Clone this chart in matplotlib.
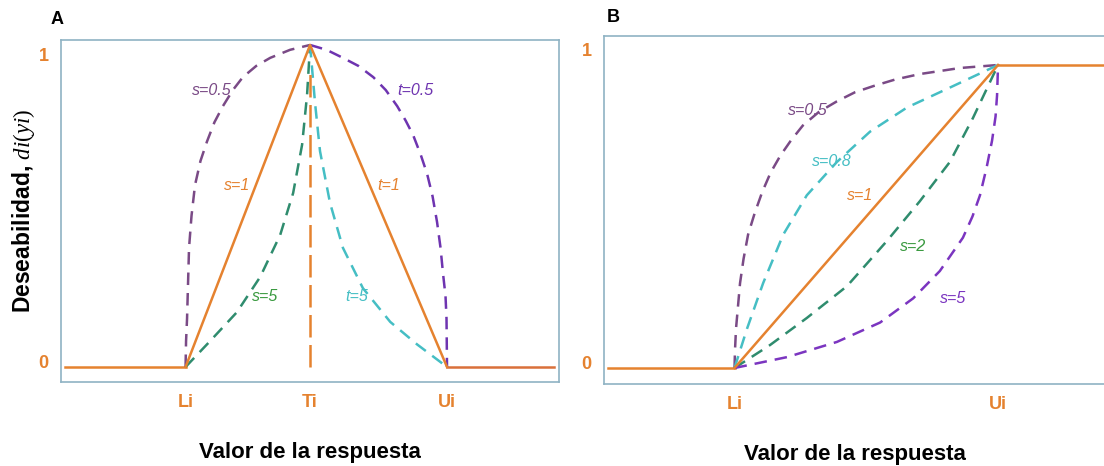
import matplotlib

matplotlib.use("Agg")
import matplotlib.pyplot as plt
from matplotlib.transforms import ScaledTranslation

plt.rcParams["font.family"] = ["Liberation Sans", "DejaVu Sans"]
plt.rcParams["mathtext.fontset"] = "custom"
plt.rcParams["mathtext.it"] = "Liberation Serif:italic"
plt.rcParams["mathtext.rm"] = "Liberation Serif"

# ---- panel A: target is best (Li < Ti < Ui) ----
a_li, a_ti, a_ui = 2.5, 5.0, 7.75
a_left_x = [0.08, 2.5]
a_right_x = [7.75, 9.9]

a_s05_x = [2.5, 2.51, 2.53, 2.57, 2.62, 2.69, 2.8, 2.93, 3.08, 3.25, 3.45, 3.65, 3.92, 4.2, 4.6, 5.0]
a_s05_y = [0.0, 0.08, 0.15, 0.37, 0.47, 0.565, 0.64, 0.70, 0.76, 0.81, 0.86, 0.90, 0.935, 0.96, 0.985, 1.0]
a_s5_x = [2.5, 2.99, 3.53, 4.0, 4.4, 4.66, 4.84, 4.94, 5.0]
a_s5_y = [0.0, 0.08, 0.17, 0.28, 0.41, 0.54, 0.69, 0.845, 1.0]
a_t05_x = [5.0, 5.33, 5.66, 5.97, 6.27, 6.52, 6.75, 6.92, 7.07, 7.22, 7.35, 7.46, 7.55, 7.62, 7.67, 7.72, 7.74, 7.75]
a_t05_y = [1.0, 0.985, 0.96, 0.935, 0.90, 0.86, 0.81, 0.765, 0.72, 0.66, 0.60, 0.53, 0.45, 0.37, 0.29, 0.22, 0.15, 0.0]
a_t5_x = [5.0, 5.1, 5.2, 5.4, 5.66, 6.06, 6.61, 7.15, 7.75]
a_t5_y = [1.0, 0.82, 0.67, 0.51, 0.37, 0.245, 0.14, 0.07, 0.0]

# ---- panel B: larger is better (Li < Ui) ----
b_li, b_ui = 2.6, 7.85
b_left_x = [0.08, 2.6]
b_right_x = [7.85, 10.0]

b_s05_x = [2.6, 2.61, 2.63, 2.71, 2.78, 2.87, 3.0, 3.15, 3.32, 3.51, 3.72, 3.96, 4.28, 4.64, 5.0, 5.36, 5.8, 6.29, 7.09, 7.85]
b_s05_y = [0.0, 0.06, 0.13, 0.28, 0.36, 0.44, 0.51, 0.58, 0.645, 0.70, 0.75, 0.80, 0.845, 0.88, 0.91, 0.93, 0.952, 0.97, 0.99, 1.0]
b_s08_x = [2.6, 2.85, 3.17, 3.57, 4.04, 4.64, 5.3, 6.04, 6.95, 7.85]
b_s08_y = [0.0, 0.13, 0.28, 0.44, 0.57, 0.68, 0.78, 0.86, 0.93, 1.0]
b_s2_x = [2.6, 3.31, 4.04, 4.84, 5.64, 6.29, 6.89, 7.35, 7.85]
b_s2_y = [0.0, 0.076, 0.165, 0.27, 0.42, 0.55, 0.68, 0.825, 1.0]
b_s5_x = [2.6, 3.65, 4.64, 5.5, 6.16, 6.69, 7.15, 7.34, 7.49, 7.62, 7.73, 7.8, 7.83, 7.85]
b_s5_y = [0.0, 0.036, 0.086, 0.15, 0.23, 0.32, 0.43, 0.50, 0.57, 0.66, 0.75, 0.83, 0.90, 1.0]

ORANGE = "#e5822f"
PURPLE_DARK = "#7a4a86"
PURPLE = "#6e34b0"
VIOLET = "#7b35c0"
GREEN = "#2f8c6e"
GREEN_TXT = "#3a9a40"
CYAN = "#45bec4"
FRAME = "#8fb3c4"

LW = 1.8
DASH = (5, 3.2)


def style_axes(ax, xticks, xlabels, ylim, one_shift):
    ax.set_xlim(0, 10)
    ax.set_ylim(*ylim)
    for sp in ax.spines.values():
        sp.set_color(FRAME)
        sp.set_linewidth(1.2)
    ax.set_xticks(xticks, xlabels)
    ax.set_yticks([0, 1], ["0", "1"])
    ax.tick_params(length=0, labelsize=13, labelcolor=ORANGE)
    ax.tick_params(axis="x", pad=9)
    ax.tick_params(axis="y", pad=9)
    for lab in ax.get_xticklabels() + ax.get_yticklabels():
        lab.set_fontweight("bold")
    labs = ax.get_yticklabels()
    labs[0].set_transform(labs[0].get_transform()
                          + ScaledTranslation(0, 4 / 72, fig.dpi_scale_trans))
    labs[1].set_transform(labs[1].get_transform()
                          + ScaledTranslation(0, one_shift / 72, fig.dpi_scale_trans))
    ax.set_xlabel("Valor de la respuesta", fontsize=16, fontweight="bold", labelpad=22)


def tag(ax, x, y, txt, color):
    ax.text(x, y, txt, color=color, fontsize=11.5, fontstyle="italic",
            ha="center", va="center")


fig = plt.figure(figsize=(11.04, 4.66), dpi=100)
ax_a = fig.add_axes([0.0553, 0.1803, 0.4511, 0.7339])
ax_b = fig.add_axes([0.5471, 0.176, 0.4547, 0.7468])

# panel A
ax_a.plot(a_left_x, [0, 0], color=ORANGE, lw=LW)
ax_a.plot(a_right_x, [0, 0], color="#d9703a", lw=LW)
ax_a.plot(a_s05_x, a_s05_y, color=PURPLE_DARK, lw=LW, ls=(0, DASH))
ax_a.plot(a_t05_x, a_t05_y, color=PURPLE, lw=LW, ls=(0, DASH))
ax_a.plot(a_s5_x, a_s5_y, color=GREEN, lw=LW, ls=(0, DASH))
ax_a.plot(a_t5_x, a_t5_y, color=CYAN, lw=LW, ls=(0, DASH))
ax_a.plot([a_ti, a_ti], [0, 0.92], color=ORANGE, lw=LW, ls=(0, (9, 3)))
ax_a.plot([a_li, a_ti, a_ui], [0, 1, 0], color=ORANGE, lw=LW)

tag(ax_a, 3.03, 0.86, "s=0.5", PURPLE_DARK)
tag(ax_a, 3.53, 0.565, "s=1", ORANGE)
tag(ax_a, 4.10, 0.22, "s=5", GREEN_TXT)
tag(ax_a, 7.11, 0.86, "t=0.5", PURPLE)
tag(ax_a, 6.57, 0.565, "t=1", ORANGE)
tag(ax_a, 5.94, 0.22, "t=5", CYAN)

style_axes(ax_a, [a_li, a_ti, a_ui], ["Li", "Ti", "Ui"], (-0.0466, 1.0155), -7)
ax_a.set_ylabel(r"Deseabilidad, $di(yi)$", fontsize=16.5, fontweight="bold", labelpad=1)

# panel B
ax_b.plot(b_left_x, [0, 0], color=ORANGE, lw=LW)
ax_b.plot(b_right_x, [1, 1], color=ORANGE, lw=LW)
ax_b.plot(b_s05_x, b_s05_y, color=PURPLE_DARK, lw=LW, ls=(0, DASH))
ax_b.plot(b_s08_x, b_s08_y, color=CYAN, lw=LW, ls=(0, DASH))
ax_b.plot(b_s2_x, b_s2_y, color=GREEN, lw=LW, ls=(0, DASH))
ax_b.plot(b_s5_x, b_s5_y, color=VIOLET, lw=LW, ls=(0, DASH))
ax_b.plot([b_li, b_ui], [0, 1], color=ORANGE, lw=LW)

tag(ax_b, 4.06, 0.85, "s=0.5", PURPLE_DARK)
tag(ax_b, 4.54, 0.68, "s=0.8", CYAN)
tag(ax_b, 5.10, 0.57, "s=1", ORANGE)
tag(ax_b, 6.16, 0.40, "s=2", GREEN_TXT)
tag(ax_b, 6.95, 0.23, "s=5", VIOLET)

style_axes(ax_b, [b_li, b_ui], ["Li", "Ui"], (-0.0528, 1.0957), 11)

fig.text(57 / 1104, 1 - 20 / 466, "A", fontsize=13, fontweight="bold", ha="center", va="center")
fig.text(613 / 1104, 1 - 18 / 466, "B", fontsize=13, fontweight="bold", ha="center", va="center")

fig.savefig("out.png", dpi=100)
